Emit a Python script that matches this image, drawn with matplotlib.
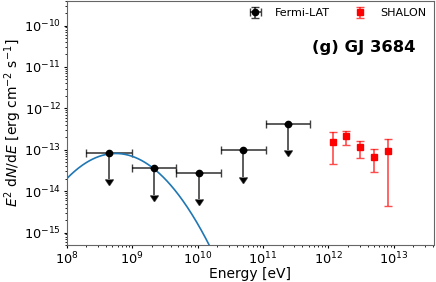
import numpy as np
import matplotlib
matplotlib.use("Agg")
from matplotlib import pyplot as plt

# Fermi-LAT upper limits (bin edges and flux limits)
fermi_edges = [2.0e8, 9.8e8, 4.7e9, 2.3e10, 1.1e11, 5.3e11]
fermi_ul = [8.5e-14, 3.6e-14, 2.8e-14, 9.6e-14, 4.2e-13]

# SHALON points
shalon_e = [1.17e12, 1.88e12, 3.05e12, 4.94e12, 8.2e12]
shalon_f = [1.56e-13, 2.09e-13, 1.16e-13, 6.6e-14, 9.25e-14]
shalon_hi = [2.65e-13, 2.88e-13, 1.67e-13, 1.03e-13, 1.8e-13]
shalon_lo = [4.6e-14, 1.29e-13, 6.5e-14, 2.95e-14, 4.3e-15]

# log-parabola model: peak energy, peak flux, curvature (in log10 space)
model_epeak = 10 ** 8.75
model_fpeak = 10 ** -13.09
model_beta = 1.084

plt.rcParams["font.size"] = 9.5

fig, ax = plt.subplots(figsize=(4.36, 2.82), dpi=100)
fig.subplots_adjust(left=0.153, right=0.995, top=0.998, bottom=0.131)

edges = np.array(fermi_edges)
e_c = np.sqrt(edges[:-1] * edges[1:])
ul = np.array(fermi_ul)
ax.errorbar(e_c, ul, xerr=[e_c - edges[:-1], edges[1:] - e_c],
            yerr=0.77 * ul, uplims=True, fmt="o", color="black",
            ecolor=(0, 0, 0, 0.75), elinewidth=1.2, capsize=3, markersize=4.5,
            label="Fermi-LAT")

sf = np.array(shalon_f)
ax.errorbar(shalon_e, sf,
            yerr=[sf - np.array(shalon_lo), np.array(shalon_hi) - sf],
            fmt="s", color="red", ecolor=(1, 0, 0, 0.7), elinewidth=1.2,
            capsize=3, markersize=4.5, label="SHALON")

e = np.logspace(8, 11, 300)
x = np.log10(e / model_epeak)
ax.plot(e, model_fpeak * 10 ** (-model_beta * x ** 2), color="#1f77b4", lw=1.2)

ax.set_xscale("log")
ax.set_yscale("log")
ax.set_xlim(1e8, 4.1e13)
ax.set_ylim(5e-16, 4e-10)
ax.set_xlabel("Energy [eV]", fontsize=10, labelpad=0)
ax.set_ylabel(r"$E^2\ {\rm d}N/{\rm d}E$ [erg cm$^{-2}$ s$^{-1}$]", fontsize=10, labelpad=0)
ax.tick_params(which="major", labelsize=9.3, length=2.5, width=0.8, pad=1.5)
ax.tick_params(which="minor", length=1.5, width=0.6)
for s in ax.spines.values():
    s.set_color("0.4")

ax.legend(loc="upper right", ncol=2, frameon=False, fontsize=8,
          handlelength=1.5, handletextpad=1.0, columnspacing=2.0,
          borderaxespad=0.3)
ax.text(0.951, 0.81, "(g) GJ 3684", transform=ax.transAxes, ha="right",
        va="center", fontsize=11.8, fontweight="bold")

plt.savefig("out.png")
